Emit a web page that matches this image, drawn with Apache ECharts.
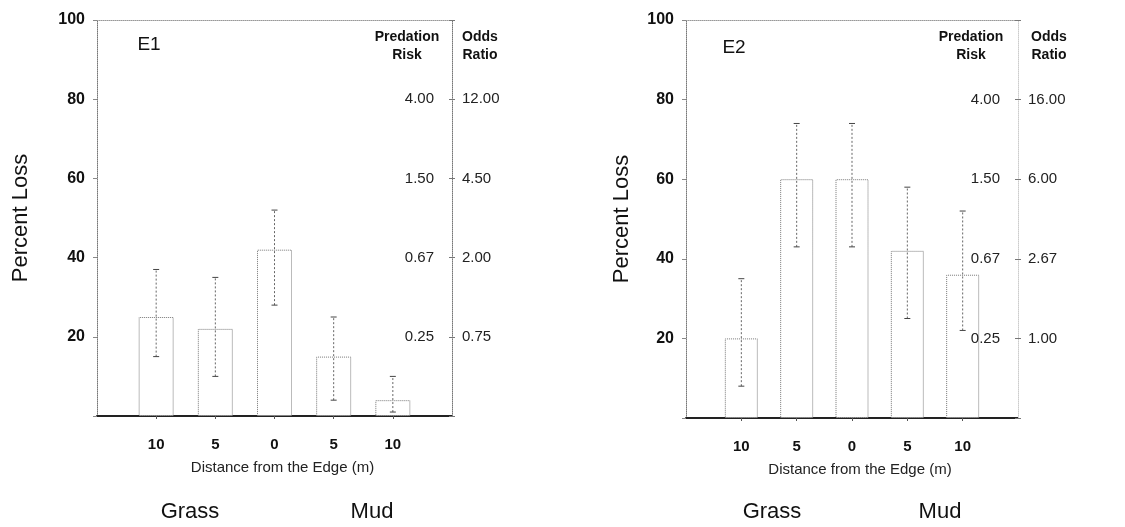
<!DOCTYPE html>
<html>
<head>
<meta charset="utf-8">
<script src="https://cdn.jsdelivr.net/npm/echarts@6/dist/echarts.min.js"></script>
<style>
  html, body { margin: 0; padding: 0; background: #fff; }
  #chart { width: 1125px; height: 527px; }
</style>
</head>
<body>
<div id="chart"></div>
<script>
// distance categories (grass side -> edge -> mud side)
const distLabels = ['10', '5', '0', '5', '10'];
const positions = [1, 2, 3, 4, 5];

// E1 percent loss
const e1Mean = [25, 22, 42, 15, 4];
const e1Low = [15, 10, 28, 4, 1];
const e1High = [37, 35, 52, 25, 10];

// E2 percent loss
const e2Mean = [20, 60, 60, 42, 36];
const e2Low = [8, 43, 43, 25, 22];
const e2High = [35, 74, 74, 58, 52];

// right-hand scales
const riskTicks = [20, 40, 60, 80];
const riskLabels = ['0.25', '0.67', '1.50', '4.00'];
const e1Odds = ['0.75', '2.00', '4.50', '12.00'];
const e2Odds = ['1.00', '2.67', '6.00', '16.00'];

const FONT = 'Liberation Sans, Arial, sans-serif';

const chart = echarts.init(document.getElementById('chart'));

// lookup for tick labels
function tickLabel(ticks, labels) {
    return v => {
        const i = ticks.indexOf(v);
        return i < 0 ? '' : labels[i];
    };
}

// error bar: dotted stem with small caps
function errorBarItem(params, api) {
    const x = api.value(0);
    const lo = api.coord([x, api.value(1)]);
    const hi = api.coord([x, api.value(2)]);
    const cap = 3;
    const st = { stroke: '#444', lineWidth: 1 };
    return {
        type: 'group',
        children: [
            { type: 'line', shape: { x1: lo[0], y1: lo[1], x2: hi[0], y2: hi[1] },
              style: { stroke: '#666', lineWidth: 1, lineDash: [2, 2] } },
            { type: 'line', shape: { x1: lo[0] - cap, y1: lo[1], x2: lo[0] + cap, y2: lo[1] }, style: st },
            { type: 'line', shape: { x1: hi[0] - cap, y1: hi[1], x2: hi[0] + cap, y2: hi[1] }, style: st }
        ]
    };
}

const grids = [
    { left: 97, top: 20, width: 355, height: 396 },
    { left: 686, top: 20, width: 332, height: 398 }
];

function xAxes(gi) {
    return [
        {
            gridIndex: gi, type: 'value', min: 0, max: 6, interval: 1,
            name: 'Distance from the Edge (m)', nameLocation: 'middle', nameGap: 44,
            nameTextStyle: { fontFamily: FONT, fontSize: 15, color: '#222', padding: [0, 0, 0, 16] },
            axisLine: { onZero: false, lineStyle: { color: '#222', width: 2 } },
            axisTick: { show: true, length: 3, lineStyle: { color: '#555' },
                        customValues: positions },
            axisLabel: { fontFamily: FONT, fontSize: 15, fontWeight: 'bold', color: '#111', margin: 21,
                         customValues: positions,
                         formatter: v => distLabels[v - 1] || '' },
            splitLine: { show: false }
        },
        {
            gridIndex: gi, type: 'value', min: 0, max: 6, position: 'top',
            axisLine: { onZero: false, lineStyle: { color: '#999', type: 'dotted' } },
            axisTick: { show: false }, axisLabel: { show: false }, splitLine: { show: false }
        }
    ];
}

function yAxes(gi, odds, rightLineColor, nameGap) {
    return [
        {
            gridIndex: gi, type: 'value', min: 0, max: 100, interval: 20,
            name: 'Percent Loss', nameLocation: 'middle', nameGap: nameGap, nameRotate: 90,
            nameTextStyle: { fontFamily: FONT, fontSize: 22, color: '#111' },
            axisLine: { show: true, onZero: false, lineStyle: { color: '#777', type: 'dotted' } },
            axisTick: { show: true, length: 4, lineStyle: { color: '#888' } },
            axisLabel: { fontFamily: FONT, fontSize: 16, fontWeight: 'bold', color: '#111', margin: 12,
                         formatter: v => v === 0 ? '' : String(v) },
            splitLine: { show: false }
        },
        {
            gridIndex: gi, type: 'value', min: 0, max: 100, interval: 20, position: 'right', z: 5,
            axisLine: { show: true, onZero: false, lineStyle: { color: rightLineColor, type: 'dotted' } },
            axisTick: { show: true, inside: true, length: 3, lineStyle: { color: '#777' } },
            axisLabel: { inside: true, fontFamily: FONT, fontSize: 15, color: '#222', margin: 18,
                         formatter: tickLabel(riskTicks, riskLabels) },
            splitLine: { show: false }
        },
        {
            gridIndex: gi, type: 'value', min: 0, max: 100, interval: 20, position: 'right', z: 5,
            axisLine: { show: false, onZero: false },
            axisTick: { show: true, length: 3, lineStyle: { color: '#777' } },
            axisLabel: { fontFamily: FONT, fontSize: 15, color: '#222', margin: 10,
                         formatter: tickLabel(riskTicks, odds) },
            splitLine: { show: false }
        }
    ];
}

function barSeries(gi, means, width) {
    return {
        type: 'bar', xAxisIndex: gi * 2, yAxisIndex: gi * 3, barWidth: width,
        data: positions.map((p, i) => [p, means[i]]),
        itemStyle: { color: '#fff', borderColor: '#777', borderWidth: 1, borderType: 'dotted' },
        z: 2
    };
}

function errSeries(gi, lows, highs) {
    return {
        type: 'custom', xAxisIndex: gi * 2, yAxisIndex: gi * 3,
        renderItem: errorBarItem,
        data: positions.map((p, i) => [p, lows[i], highs[i]]),
        z: 3
    };
}

// centred text at a point
function txt(x, y, text, size, weight) {
    return {
        type: 'text', x: x, y: y, z: 10,
        style: { text: text, fontFamily: FONT, fontSize: size, fontWeight: weight || 'normal',
                 fill: '#111', align: 'center', verticalAlign: 'middle', lineHeight: 18 }
    };
}

const option = {
    backgroundColor: '#fff',
    animation: false,
    grid: grids,
    xAxis: [...xAxes(0), ...xAxes(1)],
    yAxis: [...yAxes(0, e1Odds, '#777', 65), ...yAxes(1, e2Odds, '#ccc', 53)],
    series: [
        barSeries(0, e1Mean, 35),
        errSeries(0, e1Low, e1High),
        barSeries(1, e2Mean, 33),
        errSeries(1, e2Low, e2High)
    ],
    graphic: [
        txt(149, 45, 'E1', 19),
        txt(734, 48, 'E2', 19),
        txt(407, 46, 'Predation\nRisk', 14, 'bold'),
        txt(480, 46, 'Odds\nRatio', 14, 'bold'),
        txt(971, 46, 'Predation\nRisk', 14, 'bold'),
        txt(1049, 46, 'Odds\nRatio', 14, 'bold'),
        txt(190, 512, 'Grass', 22),
        txt(372, 512, 'Mud', 22),
        txt(772, 512, 'Grass', 22),
        txt(940, 512, 'Mud', 22)
    ]
};

chart.setOption(option);
</script>
</body>
</html>
